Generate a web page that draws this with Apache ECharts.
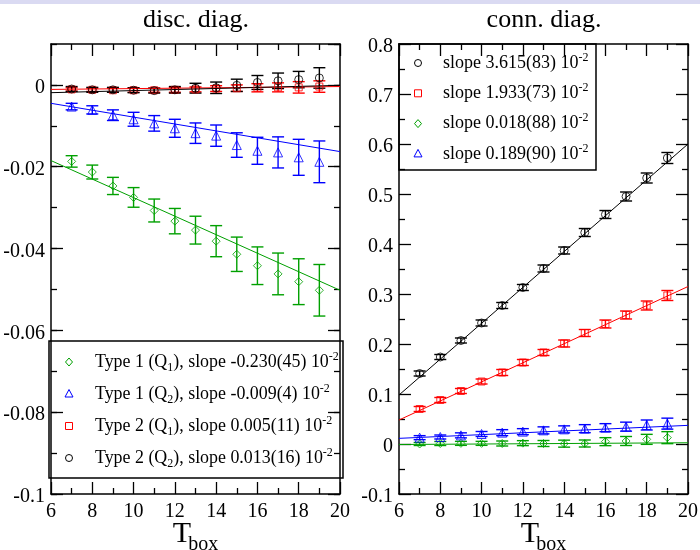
<!DOCTYPE html>
<html>
<head>
<meta charset="utf-8">
<script src="https://cdn.jsdelivr.net/npm/echarts@6/dist/echarts.min.js"></script>
<style>
html,body{margin:0;padding:0;background:#fff}
#main{width:700px;height:550px}
</style>
</head>
<body>
<div id="main"></div>
<script>
var FONT = 'Liberation Serif';

// T_box values
var tbox = [7, 8, 9, 10, 11, 12, 13, 14, 15, 16, 17, 18, 19];
var fitX = [6, 20];

// disc. diag.
var discT1Q1 = [-0.0187, -0.0213, -0.0247, -0.0275, -0.0307, -0.0333, -0.0355, -0.0382, -0.0414, -0.0442, -0.0462, -0.0481, -0.0502];
var discT1Q1Err = [0.0014, 0.0017, 0.0021, 0.0024, 0.0028, 0.0031, 0.0034, 0.0038, 0.0042, 0.0046, 0.0051, 0.0056, 0.0063];
var discT1Q1Fit = [-0.0185, -0.0502];

var discT1Q2 = [-0.0053, -0.0061, -0.0074, -0.0084, -0.0094, -0.0106, -0.0118, -0.0124, -0.0147, -0.0161, -0.0165, -0.0177, -0.0188];
var discT1Q2Err = [0.0008, 0.0010, 0.0013, 0.0017, 0.0019, 0.0022, 0.0025, 0.0026, 0.0030, 0.0033, 0.0038, 0.0044, 0.0051];
var discT1Q2Fit = [-0.0045, -0.0163];

var discT2Q1 = [-0.0011, -0.0012, -0.0013, -0.0013, -0.0013, -0.0012, -0.0011, -0.0009, -0.0008, -0.0007, -0.0006, -0.0006, -0.0004];
var discT2Q1Err = [0.0004, 0.0004, 0.0005, 0.0005, 0.0005, 0.0006, 0.0006, 0.0007, 0.0008, 0.0010, 0.0011, 0.0014, 0.0014];
var discT2Q1Fit = [-0.0011, -0.0004];

var discT2Q2 = [-0.0010, -0.0012, -0.0012, -0.0013, -0.0014, -0.0012, -0.0008, -0.0007, -0.0001, 0.0006, 0.0010, 0.0013, 0.0017];
var discT2Q2Err = [0.0006, 0.0006, 0.0006, 0.0006, 0.0006, 0.0008, 0.0012, 0.0014, 0.0015, 0.0017, 0.0019, 0.0020, 0.0025];
var discT2Q2Fit = [-0.0019, -0.0001];

// conn. diag.
var connBlack = [0.141, 0.174, 0.207, 0.242, 0.277, 0.313, 0.351, 0.387, 0.423, 0.459, 0.495, 0.532, 0.572];
var connBlackErr = [0.005, 0.005, 0.005, 0.006, 0.006, 0.006, 0.007, 0.007, 0.008, 0.008, 0.009, 0.010, 0.011];
var connBlackFit = [0.098, 0.600];

var connRed = [0.070, 0.088, 0.106, 0.125, 0.143, 0.163, 0.183, 0.201, 0.222, 0.240, 0.258, 0.277, 0.297];
var connRedErr = [0.005, 0.005, 0.005, 0.005, 0.006, 0.006, 0.006, 0.007, 0.007, 0.008, 0.008, 0.009, 0.010];
var connRedFit = [0.048, 0.315];

var connGreen = [0.000, 0.001, 0.0013, 0.0013, 0.001, 0.0017, 0.001, 0.0007, 0.001, 0.0047, 0.006, 0.0093, 0.0127];
var connGreenErr = [0.003, 0.004, 0.004, 0.004, 0.005, 0.005, 0.006, 0.007, 0.007, 0.008, 0.009, 0.010, 0.012];
var connGreenFit = [-0.001, 0.0025];

var connBlue = [0.0127, 0.014, 0.0173, 0.020, 0.0227, 0.0247, 0.0273, 0.0293, 0.0307, 0.0327, 0.0347, 0.038, 0.0407];
var connBlueErr = [0.004, 0.004, 0.005, 0.005, 0.006, 0.006, 0.007, 0.007, 0.008, 0.008, 0.009, 0.010, 0.011];
var connBlueFit = [0.0113, 0.0373];

// legend texts
var discLabels = [
    'Type 1 (Q{sub|1}), slope -0.230(45) 10{sup|-2}',
    'Type 1 (Q{sub|2}), slope -0.009(4) 10{sup|-2}',
    'Type 2 (Q{sub|1}), slope 0.005(11) 10{sup|-2}',
    'Type 2 (Q{sub|2}), slope 0.013(16) 10{sup|-2}'
];
var connLabels = [
    'slope 3.615(83) 10{sup|-2}',
    'slope 1.933(73) 10{sup|-2}',
    'slope 0.018(88) 10{sup|-2}',
    'slope 0.189(90) 10{sup|-2}'
];

var GREEN = '#00a000', BLUE = '#0000ff', RED = '#ff0000', BLACK = '#000000';

var series = [];
var legendSets = [[], []];
//一组数据: 点, 误差棒, 拟合线
function addSet(panel, color, symbol, size, ys, errs, fit) {
    var xi = panel * 2, yi = panel * 4;
    legendSets[panel].push({color: color, symbol: symbol});
    series.push({
        type: 'scatter', xAxisIndex: xi, yAxisIndex: yi,
        symbol: symbol, symbolSize: size, silent: true,
        itemStyle: {color: 'rgba(255,255,255,0)', borderColor: color, borderWidth: 1},
        data: tbox.map(function (t, i) { return [t, ys[i]]; }),
        z: 3
    });
    series.push({
        type: 'custom', xAxisIndex: xi, yAxisIndex: yi, silent: true,
        data: tbox.map(function (t, i) { return [t, ys[i], errs[i]]; }),
        encode: {x: 0, y: 1},
        renderItem: function (params, api) {
            var x = api.value(0), y = api.value(1), e = api.value(2);
            var top = api.coord([x, y + e]), bot = api.coord([x, y - e]);
            var w = 6, st = {stroke: color, lineWidth: 1.4};
            return {type: 'group', children: [
                {type: 'line', shape: {x1: top[0], y1: top[1], x2: bot[0], y2: bot[1]}, style: st},
                {type: 'line', shape: {x1: top[0] - w, y1: top[1], x2: top[0] + w, y2: top[1]}, style: st},
                {type: 'line', shape: {x1: bot[0] - w, y1: bot[1], x2: bot[0] + w, y2: bot[1]}, style: st}
            ]};
        },
        z: 2
    });
    series.push({
        type: 'line', xAxisIndex: xi, yAxisIndex: yi, silent: true,
        showSymbol: false, symbol: 'none',
        lineStyle: {color: color, width: 1},
        data: fitX.map(function (x, i) { return [x, fit[i]]; }),
        z: 2
    });
}

addSet(0, GREEN, 'diamond', 8, discT1Q1, discT1Q1Err, discT1Q1Fit);
addSet(0, BLUE, 'triangle', 9, discT1Q2, discT1Q2Err, discT1Q2Fit);
addSet(0, RED, 'rect', 7, discT2Q1, discT2Q1Err, discT2Q1Fit);
addSet(0, BLACK, 'circle', 8, discT2Q2, discT2Q2Err, discT2Q2Fit);
addSet(1, BLACK, 'circle', 8, connBlack, connBlackErr, connBlackFit);
addSet(1, RED, 'rect', 7, connRed, connRedErr, connRedFit);
addSet(1, GREEN, 'diamond', 8, connGreen, connGreenErr, connGreenFit);
addSet(1, BLUE, 'triangle', 9, connBlue, connBlueErr, connBlueFit);

var tickLine = {color: '#000', width: 1.3};
// y轴刻度文字往下挪一点, 跟刻度对齐
var yLabelRich = {a: {fontFamily: FONT, fontSize: 20, color: '#000', padding: [6, 0, 0, 0]}};

function xAx(grid, pos) {
    var bottom = pos === 'bottom';
    return {
        type: 'value', gridIndex: grid, position: pos, min: 6, max: 20, interval: 2,
        axisLine: {show: true, onZero: false, lineStyle: {color: '#000', width: 1.5}},
        axisTick: {show: true, inside: true, length: 12, lineStyle: tickLine},
        minorTick: {show: true, splitNumber: 2, length: 6, lineStyle: tickLine},
        splitLine: {show: false},
        axisLabel: {show: bottom, margin: 8, fontFamily: FONT, fontSize: 20, color: '#000'},
        name: bottom ? '{t|T}{s|box}' : '',
        nameLocation: 'middle', nameGap: 19, nameMoveOverlap: false,
        nameTextStyle: {
            rich: {
                t: {fontFamily: FONT, fontSize: 30, color: '#000'},
                s: {fontFamily: FONT, fontSize: 20, color: '#000', padding: [22, 0, 0, -3]}
            }
        }
    };
}

// 左图y轴: 主刻度0.02, 次刻度0.01 (两根轴叠在一起)
function yAxDisc(pos, major) {
    return {
        type: 'value', gridIndex: 0, position: pos, min: -0.1, max: 0.01,
        interval: major ? 0.02 : 0.01,
        axisLine: {show: major, onZero: false, lineStyle: {color: '#000', width: 1.5}},
        axisTick: {show: true, inside: true, length: major ? 12 : 6, lineStyle: tickLine},
        splitLine: {show: false},
        axisLabel: {show: major && pos === 'left', showMaxLabel: false, margin: 6,
            formatter: function (v) { return '{a|' + parseFloat(v.toFixed(2)) + '}'; },
            rich: yLabelRich}
    };
}

function yAxConn(pos) {
    return {
        type: 'value', gridIndex: 1, position: pos, min: -0.1, max: 0.8, interval: 0.1,
        axisLine: {show: true, onZero: false, lineStyle: {color: '#000', width: 1.5}},
        axisTick: {show: true, inside: true, length: 12, lineStyle: tickLine},
        minorTick: {show: true, splitNumber: 2, length: 6, lineStyle: tickLine},
        splitLine: {show: false},
        axisLabel: {show: pos === 'left', margin: 6,
            formatter: function (v) { return '{a|' + parseFloat(v.toFixed(1)) + '}'; },
            rich: yLabelRich}
    };
}

// 图例: 框 + 符号 + 文字, 用graphic画
var legendRich = {
    sub: {fontFamily: FONT, fontSize: 12, fill: '#000', padding: [11, 0, 0, 0]},
    sup: {fontFamily: FONT, fontSize: 12, fill: '#000', padding: [0, 0, 11, 0]}
};
function legendIcon(sym, color, cx, cy) {
    var st = {fill: 'none', stroke: color, lineWidth: 1};
    if (sym === 'circle') return {type: 'circle', shape: {cx: cx, cy: cy, r: 3.5}, style: st};
    if (sym === 'rect') return {type: 'rect', shape: {x: cx - 3.5, y: cy - 3.5, width: 7, height: 7}, style: st};
    if (sym === 'diamond') return {type: 'polygon', shape: {points: [[cx, cy - 4], [cx + 3.5, cy], [cx, cy + 4], [cx - 3.5, cy]]}, style: st};
    return {type: 'polygon', shape: {points: [[cx, cy - 4.5], [cx + 4, cy + 3], [cx - 4, cy + 3]]}, style: st};
}
function legendBox(items, labels, box, iconX, textX, rowY, rowGap, fontSize) {
    var els = [{type: 'rect', shape: {x: box[0], y: box[1], width: box[2], height: box[3]},
        style: {fill: '#fff', stroke: '#000', lineWidth: 1.5}}];
    items.forEach(function (it, i) {
        var y = rowY + i * rowGap;
        els.push(legendIcon(it.symbol, it.color, iconX, y));
        els.push({type: 'text', x: textX, y: y, style: {
            text: labels[i], fontFamily: FONT, fontSize: fontSize, fill: '#000',
            verticalAlign: 'middle', align: 'left', rich: legendRich
        }});
    });
    return {type: 'group', silent: true, z: 10, children: els};
}

var option = {
    animation: false,
    backgroundColor: '#fff',
    title: [
        {text: 'disc. diag.', left: 191, top: 2, textAlign: 'center',
            textStyle: {fontFamily: FONT, fontSize: 26, fontWeight: 'normal', color: '#000'}},
        {text: 'conn. diag.', left: 539, top: 2, textAlign: 'center',
            textStyle: {fontFamily: FONT, fontSize: 26, fontWeight: 'normal', color: '#000'}}
    ],
    graphic: [
        {type: 'rect', shape: {x: 0, y: 0, width: 700, height: 4}, style: {fill: '#dadaf2'}, silent: true},
        legendBox(legendSets[0], discLabels, [49, 341, 294, 137], 69, 95, 362, 32, 17.9),
        legendBox(legendSets[1], connLabels, [399, 44, 197, 126], 418, 443, 63, 30.3, 18)
    ],
    grid: [
        {left: 51, top: 44, width: 289, height: 450, outerBoundsMode: 'none'},
        {left: 399, top: 44, width: 289, height: 450, outerBoundsMode: 'none'}
    ],
    xAxis: [xAx(0, 'bottom'), xAx(0, 'top'), xAx(1, 'bottom'), xAx(1, 'top')],
    yAxis: [
        yAxDisc('left', true), yAxDisc('left', false), yAxDisc('right', true), yAxDisc('right', false),
        yAxConn('left'), yAxConn('right')
    ],
    series: series
};

var chart = echarts.init(document.getElementById('main'));
chart.setOption(option);
</script>
</body>
</html>
